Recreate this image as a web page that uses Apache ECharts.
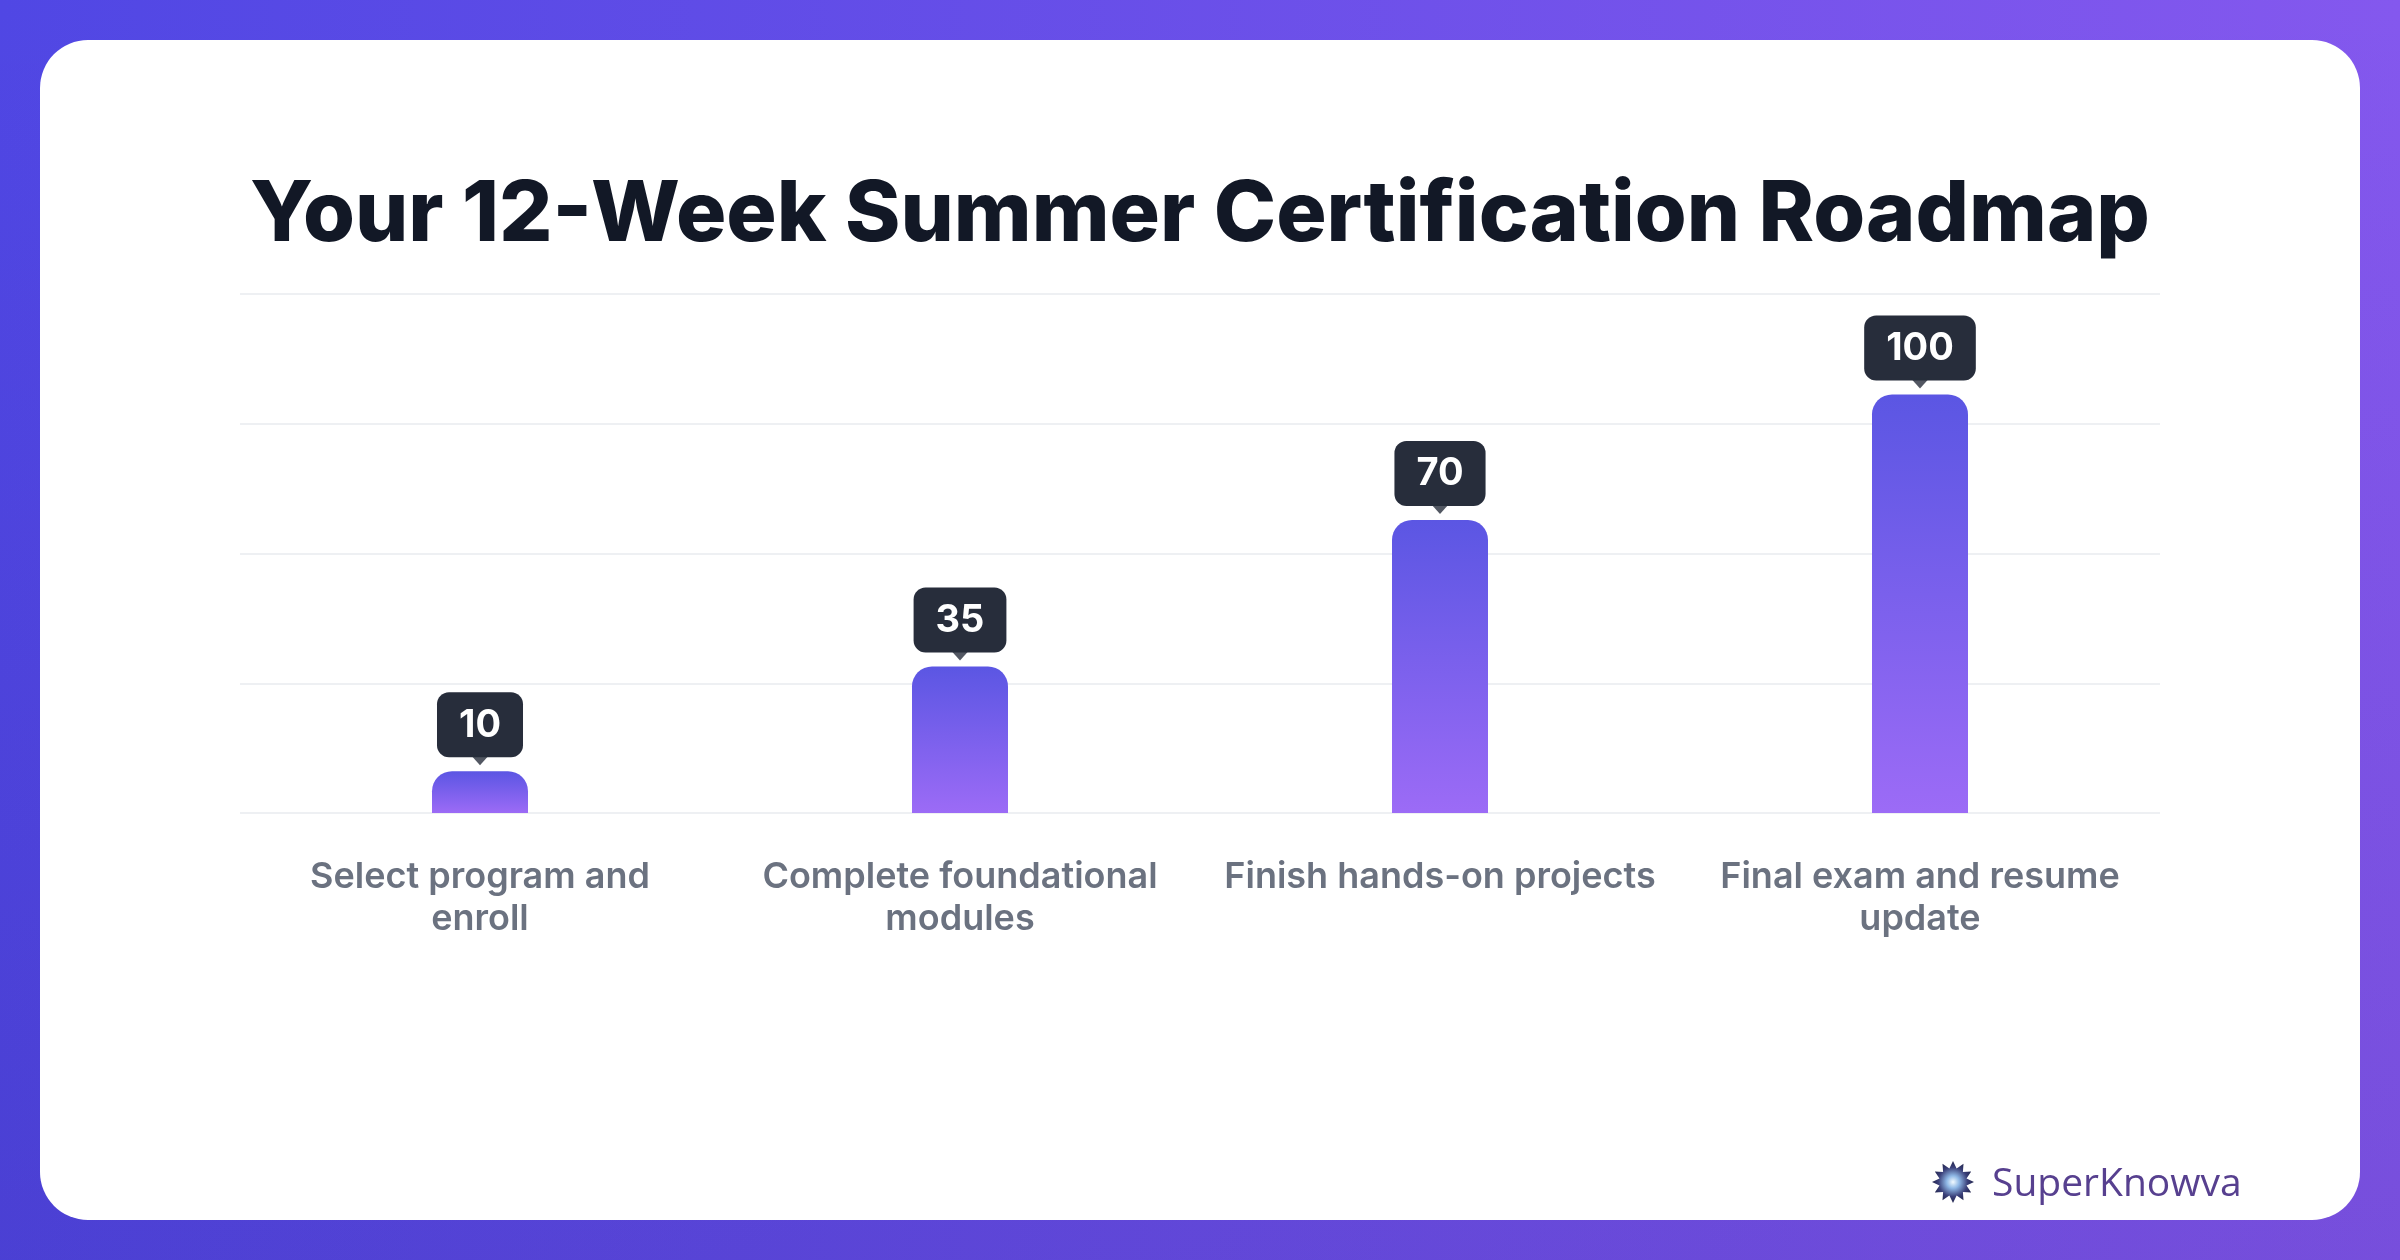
<!DOCTYPE html>
<html>
<head>
<meta charset="utf-8">
<title>Your 12-Week Summer Certification Roadmap</title>
<script src="https://cdn.jsdelivr.net/npm/echarts@6/dist/echarts.min.js"></script>
<style>
  html, body { margin: 0; padding: 0; }
  #chart { width: 2400px; height: 1260px; }
</style>
</head>
<body>
<div id="chart"></div>
<script>
// Chart data
var steps = [
  "Select program and\nenroll",
  "Complete foundational\nmodules",
  "Finish hands-on projects",
  "Final exam and resume\nupdate"
];
var progress = [10, 35, 70, 100];

var titleText = "Your 12-Week Summer Certification Roadmap";
var brandText = "SuperKnowva";

var chartDom = document.getElementById('chart');
var myChart = echarts.init(chartDom, null, { renderer: 'canvas' });

// star logo points (decoration only)
function starPoints(cx, cy, rOut, rIn, n) {
  var pts = [];
  for (var i = 0; i < n * 2; i++) {
    var r = i % 2 === 0 ? rOut : rIn;
    var a = Math.PI * i / n - Math.PI / 2;
    pts.push([cx + r * Math.cos(a), cy + r * Math.sin(a)]);
  }
  return pts;
}

var option = {
  backgroundColor: new echarts.graphic.LinearGradient(0, 0, 1, 0, [
    { offset: 0, color: '#5047e4' },
    { offset: 1, color: '#8458ee' }
  ]),
  animation: false,
  graphic: [
    {
      type: 'rect',
      z: -20,
      shape: { x: 0, y: 0, width: 2400, height: 1260 },
      style: {
        fill: new echarts.graphic.LinearGradient(0, 0, 0, 1, [
          { offset: 0, color: 'rgba(40,20,110,0)' },
          { offset: 1, color: 'rgba(40,20,110,0.14)' }
        ])
      },
      silent: true
    },
    {
      type: 'rect',
      z: -10,
      shape: { x: 40, y: 40, width: 2320, height: 1180, r: 48 },
      style: { fill: '#ffffff' },
      silent: true
    },
    {
      type: 'text',
      z: 10,
      x: 1200,
      y: 216,
      style: {
        text: titleText,
        fill: '#121826',
        font: '800 84px Inter',
        align: 'center',
        verticalAlign: 'middle'
      }
    },
    {
      type: 'polygon',
      z: 10,
      shape: { points: starPoints(1953, 1182, 21, 14, 12) },
      style: {
        fill: new echarts.graphic.RadialGradient(0.5, 0.5, 0.5, [
          { offset: 0, color: '#f2faff' },
          { offset: 0.3, color: '#8fb8e6' },
          { offset: 0.7, color: '#3a3f78' },
          { offset: 1, color: '#23264d' }
        ])
      }
    },
    {
      type: 'text',
      z: 10,
      x: 1992,
      y: 1185,
      style: {
        text: brandText,
        fill: '#57408f',
        font: '500 39px "Open Sans"',
        align: 'left',
        verticalAlign: 'middle'
      }
    }
  ],
  grid: {
    left: 240,
    right: 240,
    top: 294,
    bottom: 447
  },
  xAxis: {
    type: 'category',
    data: steps,
    axisLine: { show: false },
    axisTick: { show: false },
    axisLabel: {
      interval: 0,
      margin: 43,
      color: '#6b7280',
      fontFamily: 'Inter',
      fontSize: 36,
      fontWeight: 600,
      lineHeight: 42,
      align: 'center'
    }
  },
  yAxis: {
    type: 'value',
    min: 0,
    max: 124,
    interval: 31,
    axisLabel: { show: false },
    axisLine: { show: false },
    axisTick: { show: false },
    splitLine: { lineStyle: { color: '#eef0f3', width: 2 } }
  },
  series: [
    {
      name: 'Progress',
      type: 'bar',
      data: progress,
      barWidth: 96,
      itemStyle: {
        borderRadius: [20, 20, 0, 0],
        color: new echarts.graphic.LinearGradient(0, 0, 0, 1, [
          { offset: 0, color: '#5b56e3' },
          { offset: 1, color: '#9c6bf6' }
        ])
      },
      label: {
        show: true,
        position: 'top',
        distance: 14,
        color: '#ffffff',
        fontFamily: 'Inter',
        fontSize: 38,
        fontWeight: 700,
        lineHeight: 40,
        backgroundColor: '#272d3b',
        borderRadius: 12,
        padding: [13, 22, 12, 22]
      }
    },
    {
      // little pointer under each value box
      name: 'pointer',
      type: 'scatter',
      data: progress,
      symbol: 'triangle',
      symbolRotate: 180,
      symbolSize: [18, 10],
      symbolOffset: [0, -11],
      itemStyle: { color: '#272d3b' },
      silent: true,
      z: 5
    }
  ]
};

option && myChart.setOption(option);
</script>
</body>
</html>
